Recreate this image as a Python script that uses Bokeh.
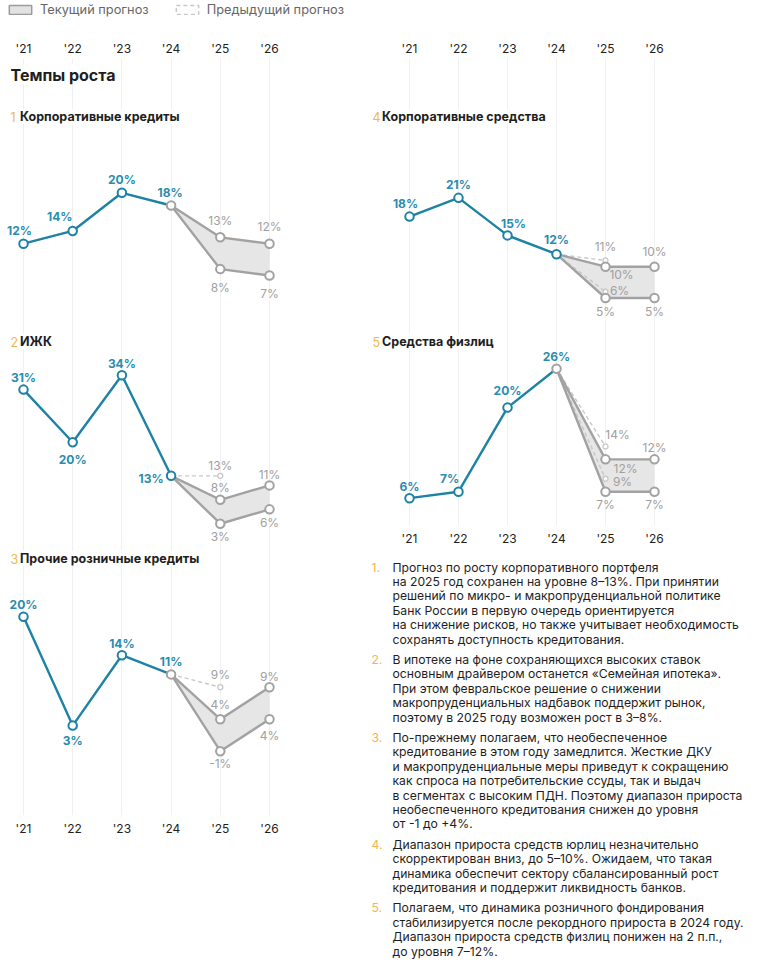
from bokeh.plotting import figure
from bokeh.models import (Range1d, LinearAxis, FixedTicker, Label, ColumnDataSource,
                          Legend, LegendItem)
from bokeh.layouts import column, row
from bokeh.core.properties import value
from bokeh.embed import file_html
from bokeh.resources import INLINE

# ---------------- data ----------------
YEARS = [2021, 2022, 2023, 2024, 2025, 2026]
YEAR_LABELS = ["'21", "'22", "'23", "'24", "'25", "'26"]
HIST_YEARS = [2021, 2022, 2023, 2024]
FC_YEARS = [2025, 2026]
PREV_YEAR = 2025

PAGE_TITLE = "Темпы роста"
LEGEND_LABELS = ["Текущий прогноз", "Предыдущий прогноз"]

corp_loans_title = "Корпоративные кредиты"
corp_loans_hist = [12, 14, 20, 18]
corp_loans_upper = [13, 12]
corp_loans_lower = [8, 7]
corp_loans_prev = []

mortgage_title = "ИЖК"
mortgage_hist = [31, 20, 34, 13]
mortgage_upper = [8, 11]
mortgage_lower = [3, 6]
mortgage_prev = [13]

retail_title = "Прочие розничные кредиты"
retail_hist = [20, 3, 14, 11]
retail_upper = [4, 9]
retail_lower = [-1, 4]
retail_prev = [9]

corp_funds_title = "Корпоративные средства"
corp_funds_hist = [18, 21, 15, 12]
corp_funds_upper = [10, 10]
corp_funds_lower = [5, 5]
corp_funds_prev = [11, 6]

household_title = "Средства физлиц"
household_hist = [6, 7, 20, 26]
household_upper = [12, 12]
household_lower = [7, 7]
household_prev = [14, 9]

NOTES = [
    ["Прогноз по росту корпоративного портфеля",
     "на 2025 год сохранен на уровне 8–13%. При принятии",
     "решений по микро- и макропруденциальной политике",
     "Банк России в первую очередь ориентируется",
     "на снижение рисков, но также учитывает необходимость",
     "сохранять доступность кредитования."],
    ["В ипотеке на фоне сохраняющихся высоких ставок",
     "основным драйвером останется «Семейная ипотека».",
     "При этом февральское решение о снижении",
     "макропруденциальных надбавок поддержит рынок,",
     "поэтому в 2025 году возможен рост в 3–8%."],
    ["По-прежнему полагаем, что необеспеченное",
     "кредитование в этом году замедлится. Жесткие ДКУ",
     "и макропруденциальные меры приведут к сокращению",
     "как спроса на потребительские ссуды, так и выдач",
     "в сегментах с высоким ПДН. Поэтому диапазон прироста",
     "необеспеченного кредитования снижен до уровня",
     "от -1 до +4%."],
    ["Диапазон прироста средств юрлиц незначительно",
     "скорректирован вниз, до 5–10%. Ожидаем, что такая",
     "динамика обеспечит сектору сбалансированный рост",
     "кредитования и поддержит ликвидность банков."],
    ["Полагаем, что динамика розничного фондирования",
     "стабилизируется после рекордного прироста в 2024 году.",
     "Диапазон прироста средств физлиц понижен на 2 п.п.,",
     "до уровня 7–12%."],
]

# ---------------- styles / layout ----------------
FONT = "Inter"
BLUE = "#1d82a3"
BLUE_TXT = "#2a8cae"
GRAY = "#a2a2a2"
GRAY_TXT = "#a0a0a0"
FILL = "#e6e6e6"
PREV = "#c8c8c8"
GOLD = "#efb84e"
INK = "#1e1e1e"
GRID = "#f0f0f0"

TOTAL_W = 758
LEG_H = 24
L_LEFT, L_W = 0, 365
R_LEFT, R_W = 365, 393
TOP_PAGE = LEG_H                 # page y where the chart figures start
FRAME_TOP = 58
L_FRAME_BOTTOM = 815
R_FRAME_BOTTOM = 525
R_TOP_BOTTOM = 550               # page y where right text block starts
PAGE_BOTTOM = 968
L_X21, L_X26 = 23, 269
R_X21, R_X26 = 409, 654

PANEL_STYLE = {
    "p1": dict(y0=319.5, k=6.36, title_y=116, m24=GRAY,
               hist_off=[(-4, -13), (-13, -14), (0, -13), (-1, -13)],
               up_off=[(0, -17), (0, -17)], lo_off=[(0, 18), (0, 18)], prev_off=[]),
    "p2": dict(y0=537.6, k=4.79, title_y=341, m24=BLUE,
               hist_off=[(0, -12), (0, 17), (0, -12), (-20, 3)],
               up_off=[(0, -12), (0, -11)], lo_off=[(0, 13), (0, 13)], prev_off=[(0, -10)]),
    "p3": dict(y0=744.3, k=6.40, title_y=558, m24=GRAY,
               hist_off=[(0, -12), (0, 15), (0, -12), (0, -13)],
               up_off=[(0, -15), (0, -11)], lo_off=[(0, 12), (0, 16)], prev_off=[(0, -13)]),
    "p4": dict(y0=328.8, k=6.26, title_y=116, m24=BLUE,
               hist_off=[(-4, -13), (0, -13), (6, -12), (0, -15)],
               up_off=[(16, 8), (0, -15)], lo_off=[(0, 13), (0, 13)], prev_off=[(0, -14), (14, -1)]),
    "p5": dict(y0=536.5, k=6.47, title_y=341, m24=GRAY,
               hist_off=[(0, -12), (-9, -13), (0, -17), (0, -12)],
               up_off=[(20, 9), (0, -12)], lo_off=[(0, 13), (0, 13)], prev_off=[(12, -12), (17, 3)]),
}


def year_range(left, width, x21, x26):
    ppy = (x26 - x21) / 5.0
    start = 2021 - (x21 - left) / ppy
    return Range1d(start=start, end=start + width / ppy)


def style_axis(ax, standoff):
    ax.ticker = FixedTicker(ticks=YEARS)
    ax.major_label_overrides = {y: l for y, l in zip(YEARS, YEAR_LABELS)}
    ax.axis_line_color = None
    ax.major_tick_line_color = None
    ax.minor_tick_line_color = None
    ax.major_tick_out = 0
    ax.major_tick_in = 0
    ax.major_label_text_font = FONT
    ax.major_label_text_font_size = "12px"
    ax.major_label_text_color = INK
    ax.major_label_standoff = standoff


def make_col_fig(left, width, height, frame_bottom, x21, x26):
    p = figure(width=width, height=height,
               x_range=year_range(left, width, x21, x26), y_range=Range1d(0, 1),
               x_axis_location="above", y_axis_location=None,
               toolbar_location=None, output_backend="svg",
               min_border=0, min_border_top=FRAME_TOP - TOP_PAGE,
               min_border_bottom=TOP_PAGE + height - frame_bottom,
               outline_line_color=None, background_fill_color="white",
               border_fill_color="white")
    style_axis(p.xaxis[0], 3)
    bottom_axis = LinearAxis()
    style_axis(bottom_axis, 5)
    p.add_layout(bottom_axis, "below")
    p.xgrid.ticker = FixedTicker(ticks=YEARS)
    p.xgrid.grid_line_color = GRID
    p.xgrid.grid_line_width = 1
    p.ygrid.visible = False
    p.extra_x_ranges["px"] = Range1d(left, left + width)
    p.extra_y_ranges["py"] = Range1d(frame_bottom, FRAME_TOP)
    return p


def title_label(p, x, y, num, text):
    p.add_layout(Label(x=x, y=y, x_range_name="px", y_range_name="py", text=num,
                       text_font=FONT, text_font_size="12.5px", text_color=GOLD,
                       text_baseline="middle", background_fill_color="white"))
    p.add_layout(Label(x=x + 9.5, y=y, x_range_name="px", y_range_name="py", text=text,
                       text_font=FONT, text_font_size="12.5px", text_font_style="bold",
                       text_color=INK, text_baseline="middle",
                       background_fill_color="white"))


def draw_panel(p, key, hist, upper, lower, prev, frame_bottom):
    st = PANEL_STYLE[key]
    y0, k = st["y0"], st["k"]
    p.extra_y_ranges[key] = Range1d(start=(y0 - frame_bottom) / k, end=(y0 - FRAME_TOP) / k)
    h24 = hist[-1]
    x24 = HIST_YEARS[-1]
    # band of the current forecast
    p.patch([x24] + FC_YEARS + FC_YEARS[::-1], [h24] + upper + lower[::-1],
            fill_color=FILL, line_color=None, y_range_name=key)
    # previous forecast
    for pv in prev:
        p.line([x24, PREV_YEAR], [h24, pv], line_color=PREV, line_width=1.4,
               line_dash="4 3", y_range_name=key)
    if prev:
        p.scatter([PREV_YEAR] * len(prev), prev, size=5, marker="circle",
                  fill_color="white", line_color=PREV, line_width=1.3, y_range_name=key)
    # current forecast bounds
    for bound in (upper, lower):
        p.line([x24] + FC_YEARS, [h24] + bound, line_color=GRAY, line_width=2.4,
               y_range_name=key)
    # history
    p.line(HIST_YEARS, hist, line_color=BLUE, line_width=2.4, y_range_name=key)
    p.scatter(FC_YEARS + FC_YEARS, upper + lower, size=8.5, marker="circle",
              fill_color="white", line_color=GRAY, line_width=2, y_range_name=key)
    p.scatter(HIST_YEARS[:-1], hist[:-1], size=8.5, marker="circle",
              fill_color="white", line_color=BLUE, line_width=2, y_range_name=key)
    p.scatter([x24], [h24], size=8.5, marker="circle",
              fill_color="white", line_color=st["m24"], line_width=2, y_range_name=key)

    # value labels
    def labels(xs, ys, offs, color, style):
        if not xs:
            return
        src = ColumnDataSource(dict(x=xs, y=ys, t=[f"{v}%" for v in ys],
                                    dx=[o[0] for o in offs], dy=[o[1] for o in offs]))
        p.text(x="x", y="y", text="t", x_offset="dx", y_offset="dy", source=src,
               text_align="center", text_baseline="middle", text_font=value(FONT),
               text_font_size="12px", text_font_style=style, text_color=color,
               y_range_name=key)
    labels(HIST_YEARS, hist, st["hist_off"], BLUE_TXT, "bold")
    labels(FC_YEARS, upper, st["up_off"], GRAY_TXT, "normal")
    labels(FC_YEARS, lower, st["lo_off"], GRAY_TXT, "normal")
    labels([PREV_YEAR] * len(prev), prev, st["prev_off"], GRAY_TXT, "normal")


# ---------------- legend strip ----------------
lf = figure(width=TOTAL_W, height=LEG_H, x_range=Range1d(0, 1), y_range=Range1d(0, 1),
            x_axis_location=None, y_axis_location=None, toolbar_location=None,
            output_backend="svg", min_border=0, min_border_left=6, min_border_top=2,
            outline_line_color=None)
lf.xgrid.visible = False
lf.ygrid.visible = False
# swatch renderers sit outside the visible range; only their legend glyphs show
r_cur = lf.quad(left=[5], right=[6], top=[6], bottom=[5], fill_color="#e2e2e2",
                line_color="#9c9c9c", line_width=1.5)
r_prev = lf.quad(left=[5], right=[6], top=[6], bottom=[5], fill_alpha=0,
                 line_color=PREV, line_width=1.5, line_dash="4 3")
legend = Legend(items=[LegendItem(label=LEGEND_LABELS[0], renderers=[r_cur]),
                       LegendItem(label=LEGEND_LABELS[1], renderers=[r_prev])],
                orientation="horizontal", location="top_left",
                glyph_width=28, glyph_height=11, label_height=11, label_width=20,
                label_standoff=6, spacing=24, padding=3, margin=0,
                border_line_color=None, background_fill_alpha=0,
                label_text_font=FONT, label_text_font_size="12.8px",
                label_text_color="#666666")
lf.add_layout(legend)

# ---------------- left column ----------------
L_H = PAGE_BOTTOM - TOP_PAGE
left = make_col_fig(L_LEFT, L_W, L_H, L_FRAME_BOTTOM, L_X21, L_X26)
left.add_layout(Label(x=10, y=74, x_range_name="px", y_range_name="py", text=PAGE_TITLE,
                      text_font=FONT, text_font_size="16px", text_font_style="bold",
                      text_color=INK, text_baseline="middle", background_fill_color="white"))
draw_panel(left, "p1", corp_loans_hist, corp_loans_upper, corp_loans_lower, corp_loans_prev, L_FRAME_BOTTOM)
draw_panel(left, "p2", mortgage_hist, mortgage_upper, mortgage_lower, mortgage_prev, L_FRAME_BOTTOM)
draw_panel(left, "p3", retail_hist, retail_upper, retail_lower, retail_prev, L_FRAME_BOTTOM)
title_label(left, 10, PANEL_STYLE["p1"]["title_y"], "1", corp_loans_title)
title_label(left, 10, PANEL_STYLE["p2"]["title_y"], "2", mortgage_title)
title_label(left, 10, PANEL_STYLE["p3"]["title_y"], "3", retail_title)

# ---------------- right column ----------------
R_H = R_TOP_BOTTOM - TOP_PAGE
right = make_col_fig(R_LEFT, R_W, R_H, R_FRAME_BOTTOM, R_X21, R_X26)
draw_panel(right, "p4", corp_funds_hist, corp_funds_upper, corp_funds_lower, corp_funds_prev, R_FRAME_BOTTOM)
draw_panel(right, "p5", household_hist, household_upper, household_lower, household_prev, R_FRAME_BOTTOM)
title_label(right, R_LEFT + 7, PANEL_STYLE["p4"]["title_y"], "4", corp_funds_title)
title_label(right, R_LEFT + 7, PANEL_STYLE["p5"]["title_y"], "5", household_title)

# ---------------- notes ----------------
NOTE_TOP, LINE_H, ITEM_GAP = 566.5, 14.4, 6.0
NUM_X, TXT_X = 371, 392
T_H = PAGE_BOTTOM - R_TOP_BOTTOM
tf = figure(width=R_W, height=T_H, x_range=Range1d(R_LEFT, R_LEFT + R_W),
            y_range=Range1d(PAGE_BOTTOM, R_TOP_BOTTOM),
            x_axis_location=None, y_axis_location=None, toolbar_location=None,
            output_backend="svg", min_border=0, outline_line_color=None)
tf.xgrid.visible = False
tf.ygrid.visible = False
nx, ny, nt, lx, ly, lt = [], [], [], [], [], []
yy = NOTE_TOP
for i, item in enumerate(NOTES):
    nx.append(NUM_X); ny.append(yy); nt.append(f"{i + 1}.")
    for line in item:
        lx.append(TXT_X); ly.append(yy); lt.append(line)
        yy += LINE_H
    yy += ITEM_GAP
tf.text(x=nx, y=ny, text=nt, text_font=value(FONT), text_font_size="12.2px",
        text_color=GOLD, text_baseline="middle")
tf.text(x=lx, y=ly, text=lt, text_font=value(FONT), text_font_size="12.2px",
        text_color=INK, text_baseline="middle")

layout = column(lf, row(left, column(right, tf, spacing=0), spacing=0), spacing=0)
open("out.html", "w").write(file_html(layout, INLINE))
